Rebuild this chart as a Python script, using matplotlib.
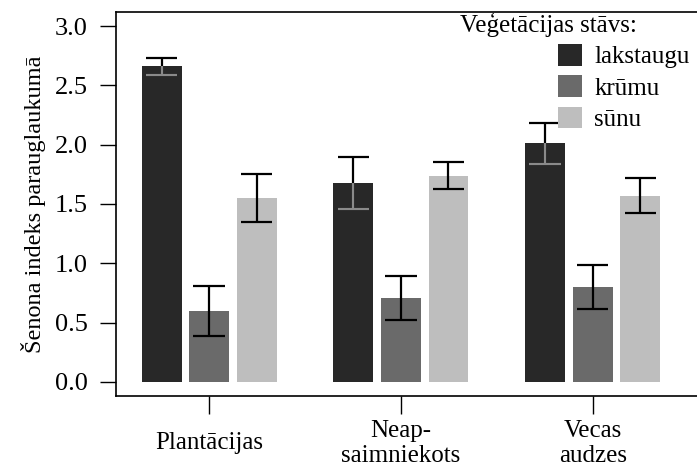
import numpy as np
import matplotlib
matplotlib.use("Agg")
import matplotlib.pyplot as plt

# Dati
grupas = ["Plantācijas", "Neap-\nsaimniekots", "Vecas\naudzes"]
slani = ["lakstaugu", "krūmu", "sūnu"]
lakstaugu = [2.66, 1.68, 2.01]
lakstaugu_se = [0.07, 0.22, 0.175]
krumu = [0.60, 0.71, 0.80]
krumu_se = [0.21, 0.185, 0.185]
sunu = [1.55, 1.74, 1.57]
sunu_se = [0.20, 0.115, 0.15]

krasas = ["#282828", "#6a6a6a", "#bebebe"]

plt.rcParams["font.family"] = "serif"
plt.rcParams["font.serif"] = ["Liberation Serif", "DejaVu Serif"]

fig = plt.figure(figsize=(6.97, 4.66), dpi=100)
ax = fig.add_axes([116 / 697, 1 - 396 / 466, 1 - 116 / 697 + 0.01, (396 - 12) / 466])

x = np.arange(len(grupas))
solis = 0.248
platums = 0.208
capw = 0.082

vertibas = [lakstaugu, krumu, sunu]
kludas = [lakstaugu_se, krumu_se, sunu_se]

for i, (v, se) in enumerate(zip(vertibas, kludas)):
    xi = x + (i - 1) * solis
    ax.bar(xi, v, width=platums, color=krasas[i], label=slani[i], zorder=2)
    v = np.array(v)
    se = np.array(se)
    ax.vlines(xi, v - se, v + se, color="black", lw=1.6, zorder=3)
    ax.hlines(v + se, xi - capw, xi + capw, color="black", lw=1.6, zorder=3)
    ax.hlines(v - se, xi - capw, xi + capw, color="black", lw=1.6, zorder=3)
    if i == 0:
        # kļūdu joslas daļa tumšajā stabiņā ir pelēka
        ax.vlines(xi, v - se, v, color="#8a8a8a", lw=1.6, zorder=4)
        ax.hlines(v - se, xi - capw, xi + capw, color="#8a8a8a", lw=1.6, zorder=4)

ax.set_xlim(-0.4855, 2.58)
ax.set_ylim(-0.118, 3.118)
ax.set_yticks([0.0, 0.5, 1.0, 1.5, 2.0, 2.5, 3.0])
ax.set_yticklabels(["0.0", "0.5", "1.0", "1.5", "2.0", "2.5", "3.0"])
ax.set_xticks(x)
ax.set_xticklabels(grupas, linespacing=1.2)
for t in ax.get_xticklabels():
    t.set_va("center")

ax.tick_params(axis="y", length=11.5, width=1.0, labelsize=19, pad=9)
ax.tick_params(axis="x", length=13, width=1.0, labelsize=18, pad=21)
ax.set_ylabel("Šenona indeks parauglaukumā", fontsize=17.5, labelpad=6)

for s in ax.spines.values():
    s.set_linewidth(1.2)
ax.spines["right"].set_visible(False)

fig.text(460 / 697, 1 - 25 / 466, "Veģetācijas stāvs:", fontsize=18,
         ha="left", va="center")
ax.legend(loc="upper left", bbox_to_anchor=(558 / 697, 1 - 44 / 466),
          bbox_transform=fig.transFigure, frameon=False, fontsize=18,
          handlelength=0.95, handleheight=0.95, handletextpad=0.5,
          labelspacing=0.28, borderpad=0, borderaxespad=0)

fig.savefig("out.png", dpi=100)
